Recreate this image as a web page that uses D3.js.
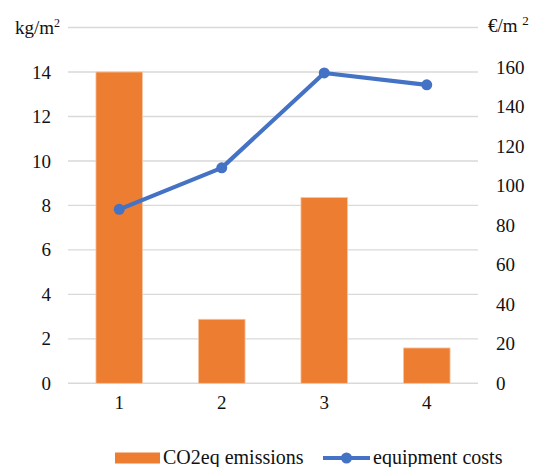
<!DOCTYPE html>
<html>
<head>
<meta charset="utf-8">
<script src="https://cdn.jsdelivr.net/npm/d3@7"></script>
<style>
  html, body { margin: 0; padding: 0; background: #fff; }
  svg, svg text { font-family: "Liberation Serif", "Times New Roman", "DejaVu Serif", serif !important; }
</style>
</head>
<body>
<svg id="chart" width="541" height="467"></svg>
<script>
const categories = ["1", "2", "3", "4"];
const co2Emissions = [14.0, 2.88, 8.36, 1.59];
const equipmentCosts = [88, 109, 157, 151];
const leftTicks = [0, 2, 4, 6, 8, 10, 12, 14];
const rightTicks = [0, 20, 40, 60, 80, 100, 120, 140, 160];
const seriesNames = ["CO2eq emissions", "equipment costs"];

const svg = d3.select("#chart");
const plot = { left: 68, right: 478, top: 27.5, bottom: 383.3 };
const fontSize = 19;
const legendFont = 20;
const textColor = "#111";
const serif = "'Liberation Serif', 'Times New Roman', serif";

const x = d3.scaleBand().domain(categories).range([plot.left, plot.right]).paddingInner(0.545).paddingOuter(0.2725);
const xc = d3.scaleBand().domain(categories).range([plot.left, plot.right]);
const yL = d3.scaleLinear().domain([0, 16]).range([plot.bottom, plot.top]);
const yR = d3.scaleLinear().domain([0, 180]).range([plot.bottom, plot.top]);

// gridlines
svg.append("g").selectAll("line").data(leftTicks.concat([16])).join("line")
  .attr("x1", plot.left).attr("x2", plot.right)
  .attr("y1", d => yL(d)).attr("y2", d => yL(d))
  .attr("stroke", "#d9d9d9").attr("stroke-width", 1.4);

function styleAxis(g) {
  g.attr("font-family", serif).attr("font-size", fontSize);
  g.select(".domain").remove();
  g.selectAll("text").style("font-family", serif).style("font-size", fontSize + "px").attr("fill", textColor);
}

// left axis
const gl = svg.append("g").attr("transform", `translate(51,0)`)
  .call(d3.axisLeft(yL).tickValues(leftTicks).tickSize(0).tickPadding(0));
styleAxis(gl);

// right axis
const gr = svg.append("g").attr("transform", `translate(496,0)`)
  .call(d3.axisRight(yR).tickValues(rightTicks).tickSize(0).tickPadding(0));
styleAxis(gr);

// axis unit titles
const kg = svg.append("text").attr("x", 15).attr("y", yL(16) + 6).style("font-size", fontSize + "px").attr("fill", textColor);
kg.append("tspan").text("kg/m");
kg.append("tspan").text("2").style("font-size", "12px").attr("dy", -7);
const eu = svg.append("text").attr("x", 488).attr("y", yL(16) + 4).style("font-size", fontSize + "px").attr("fill", textColor);
eu.append("tspan").text("€/m ");
eu.append("tspan").text("2").style("font-size", "13px").attr("dy", -7);

// bottom axis labels
const gb = svg.append("g").attr("transform", `translate(0,395)`)
  .call(d3.axisBottom(xc).tickSize(0).tickPadding(0));
styleAxis(gb);

// bars
svg.append("g").selectAll("rect").data(co2Emissions).join("rect")
  .attr("x", (d, i) => x(categories[i]))
  .attr("width", x.bandwidth())
  .attr("y", d => yL(d))
  .attr("height", d => yL(0) - yL(d))
  .attr("fill", "#ED7D31")
  .attr("stroke", "#f6c9a6").attr("stroke-width", 0.8);

// line
const line = d3.line().x((d, i) => xc(categories[i]) + xc.bandwidth() / 2).y(d => yR(d));
svg.append("path").datum(equipmentCosts).attr("d", line)
  .attr("fill", "none").attr("stroke", "#4472C4").attr("stroke-width", 4.2).attr("stroke-linejoin", "round");
svg.append("g").selectAll("circle").data(equipmentCosts).join("circle")
  .attr("cx", (d, i) => xc(categories[i]) + xc.bandwidth() / 2)
  .attr("cy", d => yR(d))
  .attr("r", 5.5).attr("fill", "#4472C4");

// legend
const lg = svg.append("g");
lg.append("rect").attr("x", 115).attr("y", 452.5).attr("width", 45).attr("height", 11).attr("fill", "#ED7D31");
lg.append("text").attr("x", 163).attr("y", 464).style("font-size", legendFont + "px").attr("fill", textColor).text(seriesNames[0]);
lg.append("line").attr("x1", 323).attr("x2", 370).attr("y1", 458).attr("y2", 458)
  .attr("stroke", "#4472C4").attr("stroke-width", 4.2);
lg.append("circle").attr("cx", 346.5).attr("cy", 458).attr("r", 5.5).attr("fill", "#4472C4");
lg.append("text").attr("x", 373).attr("y", 464).style("font-size", legendFont + "px").attr("fill", textColor).text(seriesNames[1]);
</script>
</body>
</html>
